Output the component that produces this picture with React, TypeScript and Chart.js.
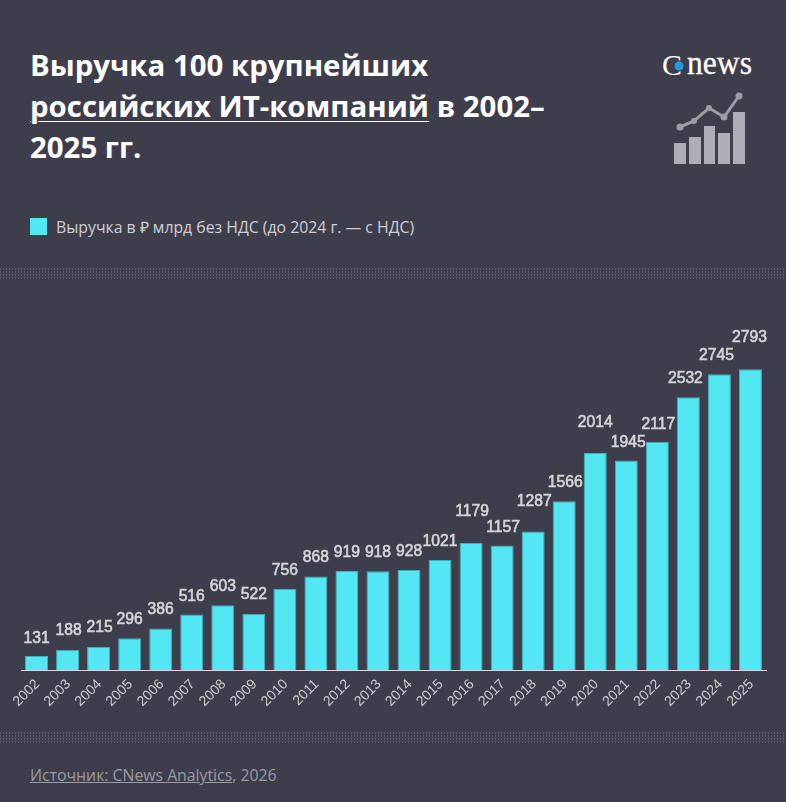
import { useEffect, useRef } from "react";
import { Chart, registerables } from "chart.js";
Chart.register(...registerables);

const years = [
  "2002", "2003", "2004", "2005", "2006", "2007", "2008", "2009",
  "2010", "2011", "2012", "2013", "2014", "2015", "2016", "2017",
  "2018", "2019", "2020", "2021", "2022", "2023", "2024", "2025",
];
const revenue = [
  131, 188, 215, 296, 386, 516, 603, 522, 756, 868, 919, 918, 928, 1021,
  1179, 1157, 1287, 1566, 2014, 1945, 2117, 2532, 2745, 2793,
];

// the source chart nudges some labels by hand, so it is kept here per bar
const labelLift = [17, 19, 19, 19, 19, 18, 18, 19, 18, 19, 18, 19, 18, 18, 31, 18, 30, 19, 30, 18, 17, 19, 19, 31];
const labelShift = [0, 1, 1, 0, 0, 0, 0, 0, 0, 0, 0, 0, 0, 0, 1, 1, 1, 1, 0, 2, 1, -3, -3, -1];

const barColor = "#52e7f3";
const textColor = "#d4d4d8";
const bgColor = "#3e3d4c";

const valueLabels = {
  id: "valueLabels",
  afterDatasetsDraw(chart: any) {
    const { ctx } = chart;
    const bars = chart.getDatasetMeta(0).data;
    ctx.save();
    ctx.font = "15.7px 'Liberation Sans'";
    ctx.fillStyle = textColor;
    ctx.strokeStyle = textColor;
    ctx.lineWidth = 0.6;
    ctx.textAlign = "center";
    ctx.textBaseline = "middle";
    bars.forEach((bar: any, i: number) => {
      const x = bar.x + labelShift[i];
      const y = bar.y - labelLift[i];
      ctx.fillText(String(revenue[i]), x, y);
      ctx.strokeText(String(revenue[i]), x, y);
    });
    ctx.restore();
  },
};

const dots = `repeating-linear-gradient(0deg, ${bgColor} 0 1px, transparent 1px 3px), repeating-linear-gradient(90deg, #5f5f6c 0 1px, transparent 1px 3px)`;

const Divider = ({ top }: { top: number }) => (
  <div style={{ position: "absolute", left: 0, top, width: 786, height: 12, backgroundImage: dots }} />
);

const Logo = () => (
  <svg width="100" height="130" style={{ position: "absolute", left: 660, top: 50 }} viewBox="0 0 100 130">
    <text x="2" y="25" fontFamily="'Liberation Serif'" fontSize="30" fill="#fff">
      C
    </text>
    <circle cx="19" cy="16" r="5.5" fill={bgColor} />
    <circle cx="19" cy="16" r="4.5" fill="#1f9ddb" />
    <text x="27" y="24" fontFamily="'Liberation Serif'" fontSize="33" fill="#fff" stroke="#fff" strokeWidth="0.3" textLength="65" lengthAdjust="spacingAndGlyphs">
      news
    </text>
    <rect x="14" y="93" width="12" height="21" fill="#aeaeb6" />
    <rect x="29" y="87" width="12" height="27" fill="#aeaeb6" />
    <rect x="44" y="76" width="11" height="38" fill="#aeaeb6" />
    <rect x="58" y="83" width="12" height="31" fill="#aeaeb6" />
    <rect x="73" y="62" width="12" height="52" fill="#aeaeb6" />
    <polyline points="20,77 34,71 49,58 64,67 79,46" fill="none" stroke="#9c9ca4" strokeWidth="3" />
    <circle cx="20" cy="77" r="3.5" fill="#9c9ca4" />
    <circle cx="34" cy="71" r="3" fill="#9c9ca4" />
    <circle cx="49" cy="58" r="3" fill="#9c9ca4" />
    <circle cx="64" cy="67" r="3.5" fill="#9c9ca4" />
    <circle cx="79" cy="46" r="3.5" fill="#9c9ca4" />
  </svg>
);

const App = () => {
  const chartRef = useRef<HTMLCanvasElement | null>(null);

  useEffect(() => {
    if (!chartRef.current) return;
    const chart = new Chart(chartRef.current, {
      type: "bar",
      data: {
        labels: years,
        datasets: [
          {
            data: revenue,
            backgroundColor: barColor,
            borderColor: "#45aebc",
            borderWidth: { top: 1, left: 1, right: 1, bottom: 0 },
            barPercentage: 0.74,
            categoryPercentage: 1,
          },
        ],
      },
      options: {
        animation: false,
        responsive: false,
        layout: { padding: { left: 21, right: 20, top: 0, bottom: 0 } },
        plugins: { legend: { display: false }, tooltip: { enabled: false } },
        scales: {
          x: {
            grid: { display: false },
            border: { color: "#d8d8dc", width: 1 },
            ticks: {
              color: "#cdcdd2",
              font: { family: "'Liberation Sans'", size: 14 },
              maxRotation: 45,
              minRotation: 45,
              padding: -2,
              labelOffset: 1,
            },
          },
          y: { display: false, min: 0, max: 3500 },
        },
      },
      plugins: [valueLabels],
    });
    return () => chart.destroy();
  }, []);

  return (
    <div style={{ position: "absolute", left: 0, top: 0, width: 786, height: 802, background: bgColor, overflow: "hidden", fontFamily: "'Open Sans'" }}>
      <div style={{ position: "absolute", left: 30, top: 45, width: 560, fontSize: 29.4, lineHeight: "41px", fontWeight: 700, color: "#fff" }}>
        Выручка 100 крупнейших
        <br />
        <span style={{ textDecoration: "underline", textDecorationThickness: 1, textUnderlineOffset: 4 }}>российских ИТ-компаний</span> в 2002–
        <br />
        2025 гг.
      </div>
      <Logo />
      <div style={{ position: "absolute", left: 30, top: 218, width: 17, height: 17, background: barColor }} />
      <div style={{ position: "absolute", left: 56, top: 216, fontSize: 15.8, lineHeight: "22px", color: "#cfcfd4", whiteSpace: "nowrap" }}>
        Выручка в ₽ млрд без НДС (до 2024 г. — с НДС)
      </div>
      <Divider top={268} />
      <canvas ref={chartRef} width={786} height={415} style={{ position: "absolute", left: 0, top: 293 }} />
      <Divider top={732} />
      <div style={{ position: "absolute", left: 30, top: 764, fontSize: 15.8, lineHeight: "22px", color: "#9a9aa3", whiteSpace: "nowrap" }}>
        <span style={{ textDecoration: "underline" }}>Источник: CNews Analytics</span>, 2026
      </div>
    </div>
  );
};

export default App;
